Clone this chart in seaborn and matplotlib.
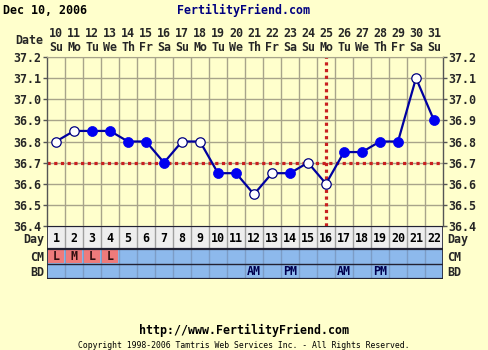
import matplotlib
matplotlib.use("Agg")
import matplotlib.pyplot as plt
import seaborn as sns
import pandas as pd
from matplotlib.patches import Rectangle

# ---- chart data ----
cycle_days = list(range(1, 23))
dates = ["10", "11", "12", "13", "14", "15", "16", "17", "18", "19", "20",
         "21", "22", "23", "24", "25", "26", "27", "28", "29", "30", "31"]
weekdays = ["Su", "Mo", "Tu", "We", "Th", "Fr", "Sa", "Su", "Mo", "Tu", "We",
            "Th", "Fr", "Sa", "Su", "Mo", "Tu", "We", "Th", "Fr", "Sa", "Su"]
temps = [36.80, 36.85, 36.85, 36.85, 36.80, 36.80, 36.70, 36.80, 36.80, 36.65, 36.65,
         36.55, 36.65, 36.65, 36.70, 36.60, 36.75, 36.75, 36.80, 36.80, 37.10, 36.90]
open_point = [True, True, False, False, False, False, False, True, True, False, False,
              True, True, False, True, True, False, False, False, False, True, False]
temp_ticks = [36.4, 36.5, 36.6, 36.7, 36.8, 36.9, 37.0, 37.1, 37.2]
coverline = 36.7
ovulation_day = 16
cm_days = [1, 2, 3, 4]
cm_labels = ["L", "M", "L", "L"]
bd_days = [12, 14, 17, 19]
bd_labels = ["AM", "PM", "AM", "PM"]

W, H = 488, 350
BG = "#FFFFCC"
GRID = "#A8A48A"
BLUE_ROW = "#8DB9EC"
DAY_ROW = "#EEEEEE"
CM_RED = "#EE7B7B"
NAVY = "#000080"

sns.set_style("white")
plt.rcParams["font.family"] = ["DejaVu Sans Mono", "DejaVu Sans"]
plt.rcParams["font.weight"] = "bold"

df = pd.DataFrame({"day": cycle_days, "temp": temps, "open": open_point})

fig = plt.figure(figsize=(W / 100, H / 100), dpi=100, facecolor=BG)


def px_box(x0, y0, x1, y1):
    return [x0 / W, 1 - y1 / H, (x1 - x0) / W, (y1 - y0) / H]


def ftext(x, y, s, **kw):
    fig.text(x / W, 1 - y / H, s, **kw)


# ---- temperature plot ----
ax = fig.add_axes(px_box(47, 57, 443, 226))
ax.set_facecolor(BG)
ax.set_xlim(0.5, 22.5)
ax.set_ylim(36.4, 37.2)

ax.set_xticks([d + 0.5 for d in cycle_days[:-1]], minor=True)
ax.set_yticks(temp_ticks)
ax.grid(True, which="minor", axis="x", color=GRID, lw=1)
ax.grid(True, which="major", axis="y", color=GRID, lw=1)
ax.set_axisbelow(True)

ax.axhline(coverline, color="#C82020", lw=2.3, ls=(0, (1, 1.1)), zorder=2)
ax.axvline(ovulation_day, color="#C82020", lw=2.3, ls=(0, (1, 1.1)), zorder=2)

sns.lineplot(data=df, x="day", y="temp", ax=ax, color="#0000A0", lw=1.6,
             sort=False, estimator=None, zorder=3)
sns.scatterplot(data=df[df["open"]], x="day", y="temp", ax=ax, s=46,
                color="white", edgecolor=NAVY, linewidth=0.9, zorder=4)
sns.scatterplot(data=df[~df["open"]], x="day", y="temp", ax=ax, s=52,
                color="#0000F0", edgecolor="#0000F0", linewidth=0.5, zorder=4)

ax.set_xlabel("")
ax.set_ylabel("")
ax.xaxis.tick_top()
ax.set_xticks(cycle_days)
ax.set_xticklabels([f"{d}\n{w}" for d, w in zip(dates, weekdays)],
                   fontsize=8.4, fontweight="bold", linespacing=1.05)
ax.tick_params(axis="x", which="both", length=0, pad=2.5)
ax.set_yticklabels([f"{t:.1f}" for t in temp_ticks], fontsize=8.4, fontweight="bold")
ax.tick_params(axis="y", which="major", left=True, right=True, labelleft=True,
               labelright=True, length=3, width=1, color="#555555", pad=1)
for side in ("left", "right"):
    ax.spines[side].set_color("#555555")
    ax.spines[side].set_linewidth(1)
ax.spines["top"].set_color(GRID)
ax.spines["bottom"].set_visible(False)

# ---- daily observation rows ----
tab = fig.add_axes(px_box(47, 226, 443, 279))
tab.set_xlim(0.5, 22.5)
tab.set_ylim(53, 0)
tab.axis("off")
rows = {"Day": (0, 23), "CM": (23, 38), "BD": (38, 53)}

for name, (top, bottom) in rows.items():
    tab.add_patch(Rectangle((0.5, top), 22, bottom - top,
                            facecolor=DAY_ROW if name == "Day" else BLUE_ROW,
                            edgecolor="none", zorder=1))
    for d in cycle_days[:-1]:
        tab.plot([d + 0.5, d + 0.5], [top, bottom],
                 color="#A0A0A0" if name == "Day" else "#7C9CC6", lw=1, zorder=2)

for d, lab in zip(cm_days, cm_labels):
    tab.add_patch(Rectangle((d - 0.44, 24.2), 0.88, 12.6, facecolor=CM_RED,
                            edgecolor="none", zorder=3))
    tab.text(d, 30.5, lab, ha="center", va="center", fontsize=8.4,
             fontweight="bold", color="#301010", zorder=4)

for d, lab in zip(bd_days, bd_labels):
    tab.text(d, 45.5, lab, ha="center", va="center", fontsize=8.4,
             fontweight="bold", color="#000050", zorder=4)

for d in cycle_days:
    tab.text(d, 12, str(d), ha="center", va="center", fontsize=8.4,
             fontweight="bold", color="black", zorder=4)

for y, lw in ((0, 1.6), (23, 1.6), (38, 1.0), (53, 1.6)):
    tab.plot([0.5, 22.5], [y, y], color="#222233", lw=lw, zorder=5,
             solid_capstyle="butt")
for x in (0.5, 22.5):
    tab.plot([x, x], [0, 53], color="#222233", lw=1.2, zorder=5)

# ---- labels around the chart ----
txt = dict(fontsize=8.4, fontweight="bold", va="center")
for name, y in (("Day", 240), ("CM", 257.5), ("BD", 272)):
    ftext(44, y, name, ha="right", **txt)
    ftext(447, y, name, ha="left", **txt)
ftext(43, 40, "Date", ha="right", **txt)

ftext(3, 10, "Dec 10, 2006", ha="left", color="black", **txt)
ftext(244, 10, "FertilityFriend.com", ha="center", color=NAVY, **txt)
ftext(244, 330, "http://www.FertilityFriend.com", ha="center", color="black", **txt)
ftext(244, 345, "Copyright 1998-2006 Tamtris Web Services Inc. - All Rights Reserved.",
      ha="center", va="center", fontsize=5.9, fontweight="normal", color="black")

fig.savefig("out.png", dpi=100, facecolor=BG)
